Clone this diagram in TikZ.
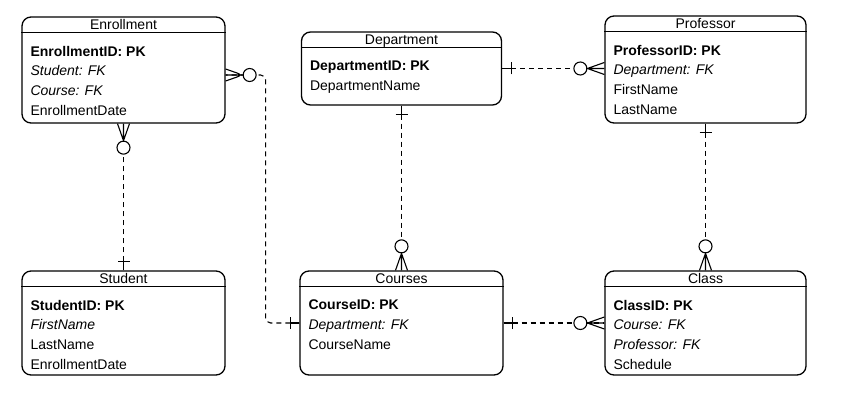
\documentclass[tikz,border=0pt]{standalone}
\usepackage{fontspec}
\setmainfont{Liberation Sans}
\usetikzlibrary{decorations.markings}

\tikzset{
  entity/.style={draw, line width=1.3pt, rounded corners=9pt, inner sep=0pt},
  title/.style={anchor=base, inner sep=0pt, font=\fontsize{14}{17}\selectfont},
  attrs/.style={anchor=north west, align=left, inner sep=0pt,
    font=\fontsize{14}{19.7}\selectfont},
  % bar at the start, circle and crow's foot at the end
  rel/.style={dash pattern=on 5pt off 4pt, line width=1.1pt,
    postaction={decorate, decoration={markings,
      mark=at position 0 with {
        \draw[solid] (0,0) -- (9pt,0) (9pt,-6pt) -- (9pt,6pt);},
      mark=at position 1 with {
        \draw[solid] (0,6pt) -- (-17pt,0) -- (0,-6pt) (-17pt,0) -- (0,0);
        \draw[solid, fill=white] (-24pt,0) circle (6.5pt);}}}},
}

\begin{document}
\begin{tikzpicture}[x=1pt,y=-1pt]

\useasboundingbox (0,0) rectangle (850,403);

% Entities
\node[entity, minimum width=203pt, minimum height=106pt] (enrol) at (123.5,70) {};
\node[entity, minimum width=200pt, minimum height=73pt] (dept) at (401.5,68.5) {};
\node[entity, minimum width=201pt, minimum height=107pt] (prof) at (705.5,69.5) {};
\node[entity, minimum width=203pt, minimum height=104pt] (stud) at (123.5,323) {};
\node[entity, minimum width=203pt, minimum height=104pt] (course) at (401.5,323) {};
\node[entity, minimum width=201pt, minimum height=104pt] (klass) at (705.5,323) {};

% Header lines
\foreach \e in {enrol,dept,prof,stud,course,klass}{
    \draw[line width=1.3pt]
        ([yshift=-16pt]\e.north west) -- ([yshift=-16pt]\e.north east);
}

% Titles
\node[title] (enrol-h) at ([yshift=-13.5pt]enrol.north) {Enrollment};
\node[title] (dept-h) at ([yshift=-13.5pt]dept.north) {Department};
\node[title] (prof-h) at ([yshift=-13.5pt]prof.north) {Professor};
\node[title] (stud-h) at ([yshift=-13.5pt]stud.north) {Student};
\node[title] (course-h) at ([yshift=-13.5pt]course.north) {Courses};
\node[title] (klass-h) at ([yshift=-13.5pt]klass.north) {Class};

% Attributes
\node[attrs] (enrol-b) at ([shift={(9pt,-29.5pt)}]enrol.north west)
    {\textbf{EnrollmentID: PK}\\ \textit{Student: FK}\\ \textit{Course: FK}\\ EnrollmentDate};
\node[attrs] (dept-b) at ([shift={(9pt,-29.5pt)}]dept.north west)
    {\textbf{DepartmentID: PK}\\ DepartmentName};
\node[attrs] (prof-b) at ([shift={(9pt,-29.5pt)}]prof.north west)
    {\textbf{ProfessorID: PK}\\ \textit{Department: FK}\\ FirstName\\ LastName};
\node[attrs] (stud-b) at ([shift={(9pt,-29.5pt)}]stud.north west)
    {\textbf{StudentID: PK}\\ \textit{FirstName}\\ LastName\\ EnrollmentDate};
\node[attrs] (course-b) at ([shift={(9pt,-29.5pt)}]course.north west)
    {\textbf{CourseID: PK}\\ \textit{Department: FK}\\ CourseName};
\node[attrs] (klass-b) at ([shift={(9pt,-29.5pt)}]klass.north west)
    {\textbf{ClassID: PK}\\ \textit{Course: FK}\\ \textit{Professor: FK}\\ Schedule};

% Relationships
\coordinate (enrol-out) at ([yshift=-5pt]enrol.east);
\draw[rel, rounded corners=5pt]
    (course.west) -| ([xshift=40pt]enrol-out) -- (enrol-out);
\draw[rel] (stud.north) -- (enrol.south);
\draw[rel] (dept.east) -- (prof.west |- dept.east);
\draw[rel] (dept.south) -- (course.north -| dept.south);
\draw[rel] (prof.south) -- (klass.north);
\draw[rel] (course.east) -- (klass.west);

\end{tikzpicture}
\end{document}
